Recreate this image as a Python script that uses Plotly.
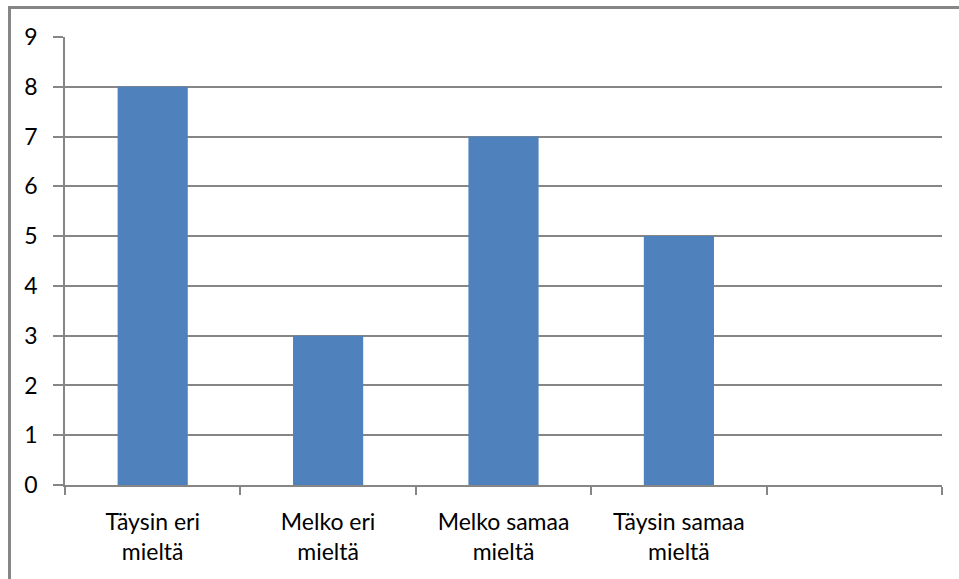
import plotly.graph_objects as go

categories = ["Täysin eri<br>mieltä", "Melko eri<br>mieltä", "Melko samaa<br>mieltä", "Täysin samaa<br>mieltä", " "]
values = [8, 3, 7, 5, None]
y_ticks = [0, 1, 2, 3, 4, 5, 6, 7, 8, 9]

W, H = 959, 579
L, R, T, B = 65, 17, 37, 94
pw, ph = W - L - R, H - T - B

gray = "#868686"
font = dict(family="Lato, 'Noto Sans', sans-serif", size=23, color="#000000")

fig = go.Figure(go.Bar(x=categories, y=values, marker=dict(color="#4F81BD", line=dict(width=0))))

def px_to_paper_x(x):
    return (x - L) / pw

def px_to_paper_y(y):
    return (H - B - y) / ph

fig.update_layout(
    width=W, height=H,
    margin=dict(l=L, r=R, t=T, b=B),
    paper_bgcolor="white", plot_bgcolor="white",
    bargap=0.6,
    showlegend=False,
    font=font,
    xaxis=dict(
        type="category",
        tickson="boundaries",
        ticks="outside", ticklen=8, tickwidth=1.5, tickcolor=gray,
        showline=True, linecolor=gray, linewidth=1.5,
        showgrid=False,
        tickfont=font,
        ticklabelstandoff=16,
    ),
    yaxis=dict(
        range=[0, 9],
        tickvals=y_ticks,
        ticks="outside", ticklen=10, tickwidth=1.5, tickcolor=gray,
        showline=True, linecolor=gray, linewidth=1.5,
        showgrid=True, gridcolor=gray, gridwidth=1.5,
        zeroline=False,
        tickfont=font,
        ticklabelstandoff=11,
    ),
    shapes=[
        dict(type="line", xref="paper", yref="paper",
             x0=px_to_paper_x(9.5), x1=px_to_paper_x(9.5),
             y0=px_to_paper_y(6), y1=px_to_paper_y(585),
             line=dict(color=gray, width=3)),
        dict(type="line", xref="paper", yref="paper",
             x0=px_to_paper_x(8), x1=px_to_paper_x(965),
             y0=px_to_paper_y(7.5), y1=px_to_paper_y(7.5),
             line=dict(color=gray, width=3)),
    ],
)

fig.write_html("out.html", config={"displayModeBar": False},
               post_script="document.body.style.margin='0';document.body.style.overflow='hidden';")
